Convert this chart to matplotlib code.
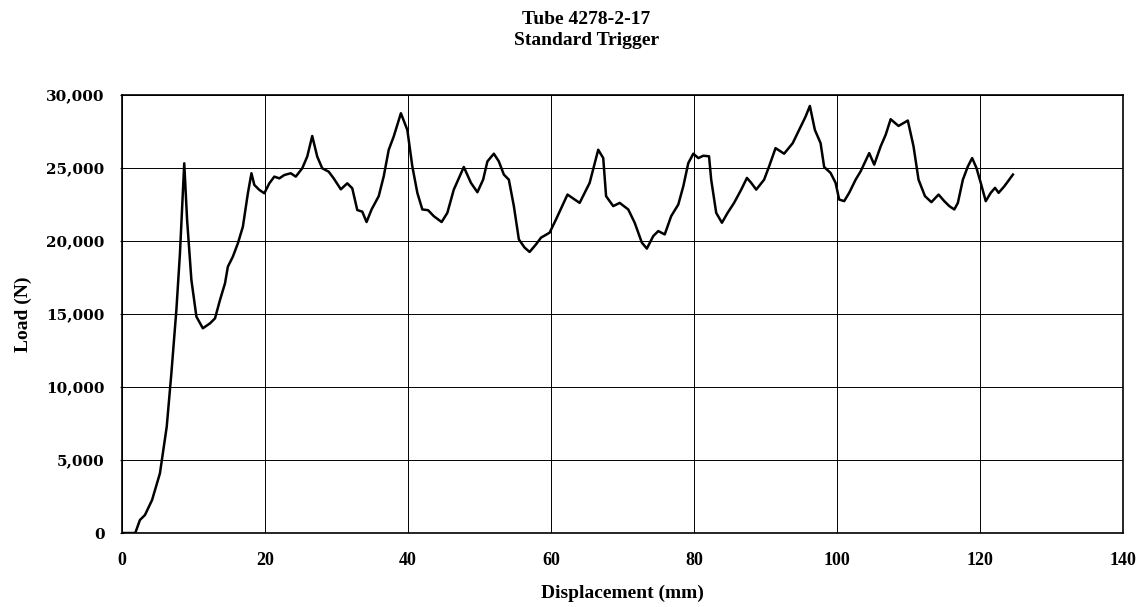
import matplotlib as mpl
mpl.use('Agg')
import matplotlib.pyplot as plt
from matplotlib.ticker import FuncFormatter

# displacement (mm) and load (N)
disp = [0, 1.85, 2.5, 3.2, 4.2, 5.3, 6.25, 6.9, 7.6, 8.1, 8.7, 9.1, 9.7, 10.4,
        11.3, 12.3, 13.0, 13.7, 14.4, 14.8, 15.5, 16.2, 16.9, 17.6, 18.1, 18.5,
        19.2, 19.9, 20.6, 21.3, 22.0, 22.7, 23.6, 24.3, 25.2, 25.9, 26.6, 27.3,
        28.0, 28.9, 29.6, 30.6, 31.5, 32.2, 32.9, 33.6, 34.2, 34.9, 35.9, 36.6,
        37.3, 38.0, 39.0, 39.9, 40.6, 41.3, 42.0, 42.8, 43.6, 44.7, 45.5, 46.4,
        47.8, 48.8, 49.7, 50.5, 51.1, 52.0, 52.7, 53.4, 54.1, 54.8, 55.5, 56.3,
        57.0, 57.9, 58.6, 59.8, 60.7, 62.3, 64.0, 65.4, 66.6, 67.3, 67.7, 68.7,
        69.6, 70.8, 71.7, 72.7, 73.4, 74.3, 75.0, 75.9, 76.8, 77.8, 78.5, 79.2,
        79.9, 80.6, 81.3, 82.1, 82.4, 83.1, 83.9, 84.7, 85.6, 86.6, 87.4, 88.0,
        88.7, 89.8, 90.5, 91.4, 92.6, 93.8, 94.7, 95.6, 96.2, 96.9, 97.7, 98.2,
        99.1, 99.8, 100.3, 101.0, 101.7, 102.6, 103.3, 104.5, 105.2, 106.1,
        106.8, 107.5, 108.6, 109.9, 110.7, 111.4, 112.3, 113.2, 114.2, 115.0,
        115.7, 116.4, 116.9, 117.6, 118.3, 118.9, 119.5, 120.1, 120.8, 121.5,
        122.1, 122.6, 123.4, 124.6]
load = [0, 0, 890, 1230, 2260, 4090, 7280, 10940, 15280, 19160, 25320, 21440,
        17330, 14820, 14020, 14360, 14700, 15960, 17100, 18240, 18930, 19840,
        20980, 23270, 24640, 23840, 23500, 23270, 23950, 24410, 24290, 24520,
        24640, 24410, 24980, 25780, 27190, 25780, 24980, 24750, 24290, 23540,
        23950, 23610, 22120, 22010, 21300, 22160, 23070, 24430, 26250, 27160,
        28750, 27610, 25110, 23300, 22160, 22110, 21700, 21300, 21930, 23520,
        25070, 23980, 23340, 24200, 25450, 25980, 25450, 24550, 24200, 22390,
        20110, 19550, 19250, 19770, 20230, 20570, 21480, 23180, 22610, 23980,
        26250, 25680, 23070, 22390, 22610, 22160, 21250, 19890, 19480, 20340,
        20680, 20450, 21700, 22500, 23750, 25340, 25980, 25680, 25840, 25800,
        24200, 21930, 21250, 21930, 22610, 23520, 24320, 23980, 23520, 24200,
        25110, 26360, 25980, 26700, 27610, 28520, 29250, 27610, 26700, 25070,
        24660, 23980, 22840, 22730, 23300, 24200, 24770, 26020, 25230, 26480,
        27270, 28340, 27880, 28250, 26480, 24200, 23070, 22660, 23180, 22730,
        22390, 22160, 22610, 24200, 25110, 25680, 25000, 23980, 22730, 23300,
        23640, 23300, 23750, 24550]

x_ticks = [0, 20, 40, 60, 80, 100, 120, 140]
y_ticks = [0, 5000, 10000, 15000, 20000, 25000, 30000]

plt.rcParams['font.family'] = ['Liberation Serif', 'DejaVu Serif']
plt.rcParams['font.weight'] = 'bold'

fig = plt.figure(figsize=(11.47, 6.07), dpi=100)
ax = fig.add_axes([0.1064, 0.1219, 0.8727, 0.7216])

ax.plot(disp, load, color='black', linewidth=1.8)

ax.set_xlim(0, 140)
ax.set_ylim(0, 30000)
ax.set_xticks(x_ticks)
ax.set_yticks(y_ticks)
ax.yaxis.set_major_formatter(FuncFormatter(lambda v, p: f'{int(v):,}'))
ax.grid(True, color='black', linewidth=0.7)
ax.tick_params(axis='x', labelsize=13, length=0, pad=14)
ax.tick_params(axis='y', labelsize=11, length=3, width=0.8, direction='inout', pad=11)
for lab in ax.get_xticklabels():
    lab.set_fontweight('bold')
for lab in ax.get_yticklabels():
    lab.set_fontweight('bold')
    lab.set_family('DejaVu Serif')
for s in ax.spines.values():
    s.set_linewidth(1.2)

ax.set_xlabel('Displacement (mm)', fontsize=14, fontweight='bold', labelpad=11)
ax.set_ylabel('Load (N)', fontsize=14, fontweight='bold', labelpad=10)

fig.text(0.511, 0.968, 'Tube 4278-2-17', ha='center', va='center',
         fontsize=14, fontweight='bold')
fig.text(0.511, 0.933, 'Standard Trigger', ha='center', va='center',
         fontsize=14, fontweight='bold')

fig.savefig('out.png', dpi=100)
plt.close()
